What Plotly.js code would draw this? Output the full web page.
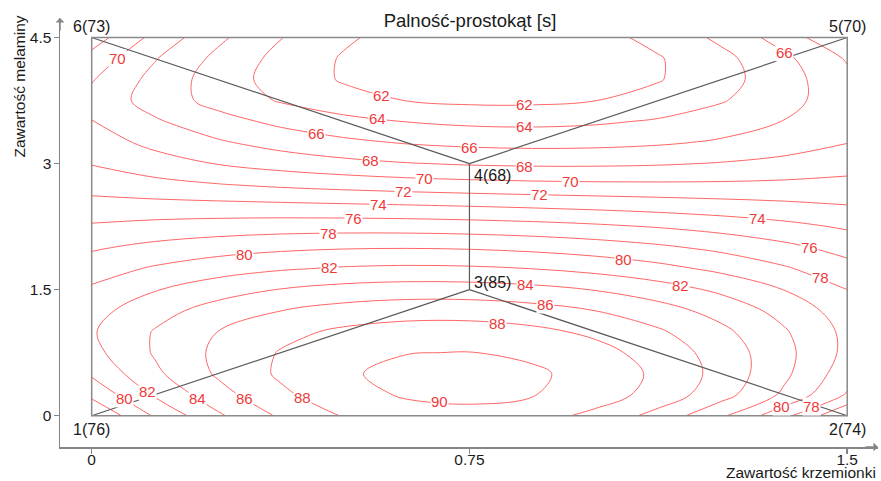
<!DOCTYPE html>
<html><head><meta charset="utf-8">
<script src="https://cdn.plot.ly/plotly-3.0.1.min.js"></script>
<style>html,body{margin:0;padding:0;background:#fff}#chart{width:881px;height:481px}</style>
</head><body><div id="chart"></div>
<script>
// ---- data ----
const xGrid = [0, 0.125, 0.25, 0.375, 0.5, 0.625, 0.75, 0.875, 1.0, 1.125, 1.25, 1.375, 1.5];
const yGrid = [0, 0.25, 0.5, 0.75, 1.0, 1.25, 1.5, 1.75, 2.0, 2.25, 2.5, 2.75, 3.0, 3.25, 3.5, 3.75, 4.0, 4.25, 4.5];
const zGrid = [
  [76, 80.23, 83.67, 86.3, 88.13, 89.17, 89.4, 88.83, 87.47, 85.3, 82.33, 78.57, 74],
  [78.5, 82.22, 85.24, 87.59, 89.25, 90.22, 90.5, 90.1, 89.01, 87.24, 84.78, 81.63, 77.8],
  [80.3, 83.59, 86.26, 88.31, 89.74, 90.56, 90.75, 90.32, 89.28, 87.61, 85.33, 82.42, 78.9],
  [81.4, 84.18, 86.42, 88.13, 89.3, 89.94, 90.05, 89.63, 88.67, 87.18, 85.15, 82.59, 79.5],
  [81.8, 84.13, 86.0, 87.41, 88.37, 88.86, 88.9, 88.48, 87.6, 86.26, 84.47, 82.21, 79.5],
  [81.3, 83.25, 84.81, 85.98, 86.76, 87.15, 87.15, 86.76, 85.99, 84.83, 83.27, 81.33, 79.0],
  [80.3, 81.88, 83.14, 84.08, 84.69, 84.98, 84.95, 84.6, 83.92, 82.93, 81.61, 79.96, 78.0],
  [79.1, 80.24, 81.14, 81.8, 82.21, 82.38, 82.3, 81.98, 81.41, 80.6, 79.54, 78.24, 76.7],
  [77.75, 78.55, 79.16, 79.59, 79.84, 79.91, 79.8, 79.5, 79.03, 78.37, 77.53, 76.51, 75.3],
  [76.25, 76.65, 76.94, 77.13, 77.19, 77.15, 77.0, 76.74, 76.36, 75.88, 75.28, 74.57, 73.75],
  [74.7, 74.64, 74.55, 74.43, 74.28, 74.11, 73.9, 73.66, 73.4, 73.11, 72.78, 72.43, 72.05],
  [73.2, 72.61, 72.09, 71.63, 71.25, 70.92, 70.67, 70.48, 70.36, 70.31, 70.32, 70.4, 70.55],
  [71.9, 70.84, 69.92, 69.16, 68.56, 68.1, 67.8, 67.65, 67.66, 67.81, 68.12, 68.59, 69.2],
  [70.95, 69.49, 68.26, 67.24, 66.44, 65.86, 65.5, 65.36, 65.44, 65.74, 66.26, 66.99, 67.95],
  [70.05, 68.26, 66.76, 65.54, 64.61, 63.96, 63.6, 63.52, 63.73, 64.22, 64.99, 66.06, 67.4],
  [69.4, 67.17, 65.31, 63.83, 62.71, 61.97, 61.6, 61.6, 61.98, 62.73, 63.85, 65.34, 67.2],
  [70.15, 67.37, 65.06, 63.21, 61.82, 60.9, 60.45, 60.46, 60.94, 61.88, 63.29, 65.16, 67.5],
  [71.3, 68.14, 65.51, 63.4, 61.82, 60.77, 60.25, 60.26, 60.79, 61.85, 63.44, 65.56, 68.2],
  [73, 69.42, 66.44, 64.08, 62.31, 61.15, 60.6, 60.65, 61.31, 62.58, 64.44, 66.92, 70]
];
const contourStart = 62, contourEnd = 90, contourStep = 2;

const designIds = [1, 2, 3, 4, 5, 6];
const designX = [0, 1.5, 0.75, 0.75, 1.5, 0];
const designY = [0, 0, 1.5, 3, 4.5, 4.5];
const designZ = [76, 74, 85, 68, 70, 73];
const designLinks = [[6, 4], [5, 4], [4, 3], [3, 1], [3, 2]];

const xTickVals = [0, 0.75, 1.5];
const xTickText = ['0', '0.75', '1.5'];
const yTickVals = [0, 1.5, 3, 4.5];
const yTickText = ['0', '1.5', '3', '4.5'];

const chartTitle = 'Palność-prostokąt [s]';
const xTitle = 'Zawartość krzemionki';
const yTitle = 'Zawartość melaminy';

// ---- styling / placement ----
const FONT = 'Liberation Sans, Arial, sans-serif';
const AXIS_GRAY = '#858585';
const LABEL_RED = '#f03a3a';
const labelPlacement = {
  1: {xanchor: 'center', xshift: 0, yshift: -14},
  2: {xanchor: 'center', xshift: 0, yshift: -14},
  3: {xanchor: 'left', xshift: 3, yshift: 7},
  4: {xanchor: 'left', xshift: 3, yshift: -12},
  5: {xanchor: 'center', xshift: 0, yshift: 11},
  6: {xanchor: 'center', xshift: 0, yshift: 11}
};
// where to put contour labels: [level, x position, y search window]
const labelSpots = [
  [70, 0.052, 4.0, 4.5],
  [62, 0.576, 3.5, 4.1], [62, 0.86, 3.4, 4.0],
  [64, 0.568, 3.2, 3.8], [64, 0.86, 3.2, 3.7],
  [66, 0.447, 3.0, 3.6], [66, 0.75, 3.0, 3.4], [66, 1.376, 4.0, 4.5],
  [68, 0.553, 2.9, 3.3], [68, 0.86, 2.8, 3.2],
  [70, 0.66, 2.6, 3.0], [70, 0.95, 2.6, 3.0],
  [72, 0.62, 2.5, 2.9], [72, 0.89, 2.4, 2.8],
  [74, 0.57, 2.3, 2.7], [74, 1.321, 2.0, 2.5],
  [76, 0.52, 2.15, 2.5], [76, 1.426, 1.7, 2.2],
  [78, 0.47, 2.0, 2.35], [78, 1.446, 1.3, 1.8], [78, 1.43, 0, 0.4],
  [80, 0.304, 1.7, 2.1], [80, 1.055, 1.7, 2.1], [80, 0.065, 0.05, 0.6], [80, 1.37, 0.0, 0.6],
  [82, 0.473, 1.6, 1.9], [82, 1.168, 1.35, 1.75], [82, 0.11, 0.1, 0.6],
  [84, 0.862, 1.45, 1.75], [84, 0.211, 0, 0.5],
  [86, 0.9, 1.25, 1.6], [86, 0.303, 0, 0.5],
  [88, 0.805, 0.9, 1.3], [88, 0.418, 0, 0.55],
  [90, 0.69, 0, 0.35]
];

// bilinear lookup of the grid, used only to seat labels on their lines
function cellIndex(arr, v) {
  for (let i = 0; i < arr.length - 1; i++) if (v <= arr[i + 1]) return i;
  return arr.length - 2;
}
function zAt(x, y) {
  const i = cellIndex(xGrid, x), j = cellIndex(yGrid, y);
  const tx = (x - xGrid[i]) / (xGrid[i + 1] - xGrid[i]);
  const ty = (y - yGrid[j]) / (yGrid[j + 1] - yGrid[j]);
  const a = zGrid[j][i], b = zGrid[j][i + 1], c = zGrid[j + 1][i], d = zGrid[j + 1][i + 1];
  return (a * (1 - tx) + b * tx) * (1 - ty) + (c * (1 - tx) + d * tx) * ty;
}
function seatY(level, x, y0, y1) {
  const n = 400;
  let prevY = y0, prev = zAt(x, y0) - level;
  for (let k = 1; k <= n; k++) {
    const y = y0 + (y1 - y0) * k / n;
    const cur = zAt(x, y) - level;
    if (prev === 0) return prevY;
    if (prev * cur <= 0) return prevY + (y - prevY) * (prev / (prev - cur));
    prevY = y; prev = cur;
  }
  return null;
}

const idx = id => designIds.indexOf(id);
const linkX = [], linkY = [];
designLinks.forEach(([a, b]) => {
  linkX.push(designX[idx(a)], designX[idx(b)], null);
  linkY.push(designY[idx(a)], designY[idx(b)], null);
});

const traces = [
  {
    type: 'contour', x: xGrid, y: yGrid, z: zGrid,
    autocontour: false,
    contours: {start: contourStart, end: contourEnd, size: contourStep, coloring: 'none', showlabels: false},
    line: {color: '#ff6666', width: 1, smoothing: 1},
    showscale: false, hoverinfo: 'skip'
  },
  {
    type: 'scatter', mode: 'lines', x: linkX, y: linkY,
    line: {color: '#5a5a5a', width: 1.2}, hoverinfo: 'skip', showlegend: false
  }
];

const annotations = [];
labelSpots.forEach(([lv, x, y0, y1]) => {
  const y = seatY(lv, x, y0, y1);
  if (y === null) return;
  annotations.push({
    xref: 'x', yref: 'y', x: x, y: y, text: String(lv), showarrow: false,
    xanchor: 'center', yanchor: 'middle', bgcolor: '#ffffff', borderpad: 0,
    font: {family: FONT, size: 15, color: LABEL_RED}
  });
});
designIds.forEach((id, i) => {
  const p = labelPlacement[id];
  annotations.push({
    xref: 'x', yref: 'y', x: designX[i], y: designY[i],
    text: id + '(' + designZ[i] + ')', showarrow: false,
    xanchor: p.xanchor, yanchor: 'middle', xshift: p.xshift, yshift: p.yshift,
    font: {family: FONT, size: 16, color: '#1a1a1a'}
  });
});
annotations.push({
  xref: 'paper', yref: 'paper', x: 1, y: 0, xanchor: 'right', yanchor: 'middle', yshift: -25,
  text: xTitle, showarrow: false, font: {family: FONT, size: 15.5, color: '#1a1a1a'}
});
annotations.push({
  xref: 'paper', yref: 'paper', x: -0.0495, y: 0.839, xanchor: 'center', yanchor: 'middle',
  textangle: -90, text: yTitle, showarrow: false, font: {family: FONT, size: 15.5, color: '#1a1a1a'}
});
annotations.push({
  xref: 'paper', yref: 'paper', x: 1, y: 0, ax: -14, ay: 0, text: '', showarrow: true,
  arrowhead: 1, arrowsize: 1, arrowwidth: 1.5, arrowcolor: AXIS_GRAY
});
annotations.push({
  xref: 'paper', yref: 'paper', x: 0, y: 1, ax: 0, ay: 14, text: '', showarrow: true,
  arrowhead: 1, arrowsize: 1, arrowwidth: 1.5, arrowcolor: AXIS_GRAY
});

const axisCommon = {
  showline: true, linecolor: AXIS_GRAY, linewidth: 1.5, ticks: 'outside', ticklen: 5,
  tickcolor: AXIS_GRAY, tickwidth: 1.5, showgrid: false, zeroline: false, fixedrange: true,
  tickfont: {family: FONT, size: 15.5, color: '#1a1a1a'}, tickmode: 'array'
};

const layout = {
  width: 881, height: 481,
  margin: {l: 60, r: 3, t: 18, b: 34, pad: 0},
  paper_bgcolor: '#ffffff', plot_bgcolor: '#ffffff',
  showlegend: false,
  title: {text: chartTitle, font: {family: FONT, size: 18.5, color: '#1a1a1a'},
          xref: 'container', yref: 'container', x: 0.5335, xanchor: 'center', y: 0.957, yanchor: 'middle'},
  xaxis: Object.assign({}, axisCommon, {range: [-0.0629, 1.5611], tickvals: xTickVals, ticktext: xTickText,
                                        ticklabelstandoff: -7}),
  yaxis: Object.assign({}, axisCommon, {range: [-0.3724, 4.732], tickvals: yTickVals, ticktext: yTickText,
                                        ticklabelstandoff: -1}),
  shapes: [{
    type: 'rect', xref: 'x', yref: 'y', layer: 'above',
    x0: xTickVals[0], x1: xTickVals[xTickVals.length - 1],
    y0: yTickVals[0], y1: yTickVals[yTickVals.length - 1],
    line: {color: '#8a8a8a', width: 1.5}
  }],
  annotations: annotations
};

Plotly.newPlot('chart', traces, layout, {displayModeBar: false, staticPlot: true});
</script>
</body></html>
